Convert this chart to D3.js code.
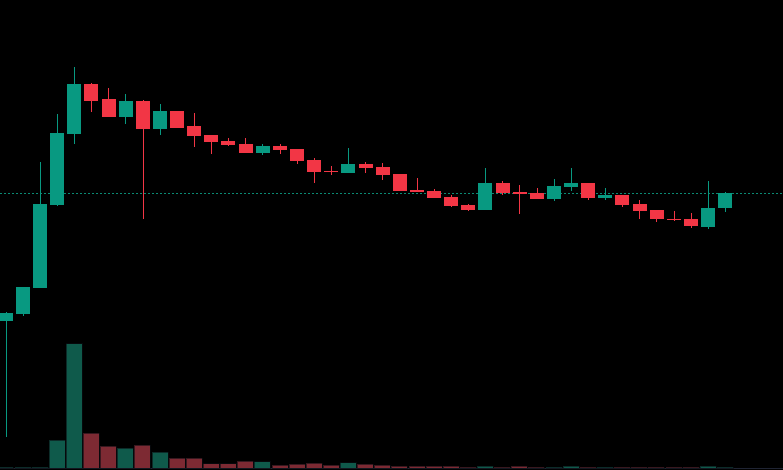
<!DOCTYPE html>
<html>
<head>
<meta charset="utf-8">
<script src="https://cdn.jsdelivr.net/npm/d3@7"></script>
<style>
  html, body { margin: 0; padding: 0; background: #000; }
  svg { display: block; }
</style>
</head>
<body>
<svg id="chart" width="783" height="470"></svg>
<script>
// ---- data ----
const opens  = [2.16,2.23,2.49,3.32,4.03,4.53,4.38,4.20,4.36,4.08,4.26,4.11,4.02,3.96,3.93,3.84,3.91,3.88,3.77,3.66,3.64,3.73,3.70,3.63,3.47,3.46,3.40,3.32,3.27,3.54,3.45,3.44,3.38,3.50,3.54,3.39,3.42,3.33,3.27,3.185,3.18,3.10,3.29];
const highs  = [2.25,2.50,3.75,4.23,4.70,4.54,4.49,4.43,4.37,4.33,4.26,4.24,4.02,3.99,3.99,3.93,3.93,3.88,3.79,3.71,3.89,3.75,3.74,3.63,3.59,3.48,3.42,3.33,3.69,3.56,3.52,3.49,3.58,3.69,3.54,3.49,3.42,3.37,3.27,3.26,3.24,3.56,3.45];
const lows   = [1.00,2.21,2.49,3.31,3.93,4.25,4.20,4.13,3.18,4.02,4.09,3.90,3.83,3.91,3.84,3.82,3.83,3.73,3.54,3.62,3.64,3.64,3.57,3.46,3.45,3.39,3.30,3.26,3.27,3.42,3.23,3.38,3.36,3.46,3.37,3.37,3.30,3.18,3.15,3.16,3.09,3.08,3.25];
const closes = [2.24,2.50,3.33,4.04,4.53,4.36,4.20,4.36,4.08,4.26,4.09,4.01,3.95,3.92,3.84,3.91,3.87,3.76,3.65,3.655,3.73,3.69,3.62,3.46,3.45,3.39,3.31,3.27,3.54,3.44,3.435,3.38,3.51,3.54,3.39,3.42,3.32,3.26,3.18,3.175,3.11,3.29,3.445];
const volumes = [10,10,10,280,1243,350,217,197,227,160,100,100,43,43,70,63,27,37,47,27,53,37,27,17,17,20,20,10,20,7,20,7,10,20,10,7,7,7,7,7,7,20,7];

// ---- layout ----
const W = 783, H = 470;
const svg = d3.select("#chart");
svg.append("rect").attr("width", W).attr("height", H).attr("fill", "#000");

const idx = d3.range(opens.length);
const x = d3.scaleLinear().domain([0, idx.length - 1]).range([5.5, 725]);
const step = x(1) - x(0);

const y = d3.scaleLinear()
  .domain([d3.min(lows), d3.max(highs)])
  .range([437, 67]);

const yv = d3.scaleLinear()
  .domain([0, d3.max(volumes)])
  .range([468, 343.7]);

const upColor = "#089981", downColor = "#f23645";
const upVol = "#0f5a4b", downVol = "#7d2a33";
const isUp = i => closes[i] >= opens[i];

// baseline
svg.append("line")
  .attr("x1", 0).attr("x2", W).attr("y1", 468.5).attr("y2", 468.5)
  .attr("stroke", "#1f2433").attr("stroke-width", 1);

// volume bars
const vbw = step - 1;
svg.append("g").selectAll("rect").data(idx).join("rect")
  .attr("x", i => Math.round(x(i) - vbw / 2))
  .attr("width", Math.round(vbw))
  .attr("y", i => yv(volumes[i]))
  .attr("height", i => Math.max(1, 468 - yv(volumes[i])))
  .attr("fill", i => isUp(i) ? upVol : downVol)
  .attr("stroke", "#0a0d12").attr("stroke-width", 0.6)
  .attr("shape-rendering", "crispEdges");

// last price line (dotted)
const lastY = Math.round(y(closes[closes.length - 1])) + 0.5;
svg.append("line")
  .attr("x1", 0).attr("x2", W).attr("y1", lastY).attr("y2", lastY)
  .attr("stroke", "#0a8a74")
  .attr("stroke-width", 1).attr("stroke-dasharray", "2 2")
  .attr("shape-rendering", "crispEdges");

// wicks
svg.append("g").selectAll("line").data(idx).join("line")
  .attr("x1", i => Math.round(x(i)) + 0.5)
  .attr("x2", i => Math.round(x(i)) + 0.5)
  .attr("y1", i => y(highs[i]))
  .attr("y2", i => y(lows[i]))
  .attr("stroke", i => isUp(i) ? upColor : downColor)
  .attr("stroke-width", 1);

// bodies
const bw = 13.5;
svg.append("g").selectAll("rect").data(idx).join("rect")
  .attr("x", i => Math.round(x(i) - bw / 2))
  .attr("width", Math.round(bw))
  .attr("y", i => y(Math.max(opens[i], closes[i])))
  .attr("height", i => Math.max(1, Math.abs(y(opens[i]) - y(closes[i]))))
  .attr("fill", i => isUp(i) ? upColor : downColor)
  .attr("shape-rendering", "crispEdges");
</script>
</body>
</html>
